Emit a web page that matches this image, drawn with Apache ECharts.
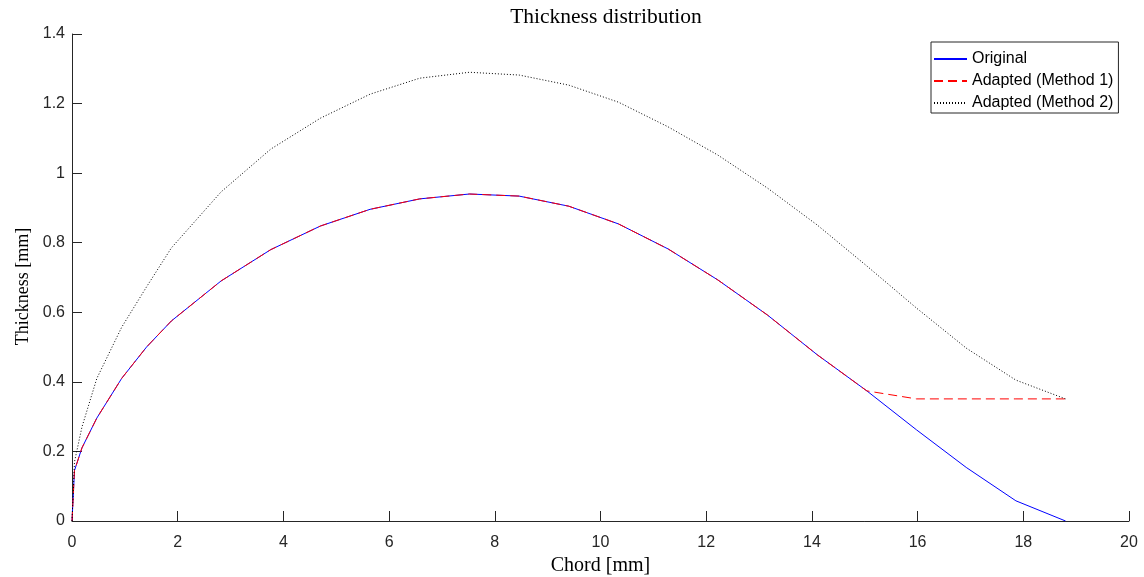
<!DOCTYPE html>
<html>
<head>
<meta charset="utf-8">
<script src="https://cdn.jsdelivr.net/npm/echarts@6/dist/echarts.min.js"></script>
<style>html,body{margin:0;padding:0;background:#fff}#c{width:1144px;height:577px}</style>
</head>
<body>
<div id="c"></div>
<script>
// Chord positions [mm]
var chord = [0, 0.047, 0.188, 0.47, 0.94, 1.41, 1.88, 2.82, 3.76, 4.7, 5.64, 6.58, 7.52, 8.46, 9.4, 10.34, 11.28, 12.22, 13.16, 14.1, 15.04, 15.98, 16.92, 17.86, 18.8];
// Thickness values [mm]
var original = [0, 0.145, 0.21, 0.296, 0.41, 0.5, 0.575, 0.69, 0.78, 0.848, 0.896, 0.926, 0.94, 0.934, 0.905, 0.854, 0.782, 0.693, 0.592, 0.478, 0.374, 0.262, 0.154, 0.058, 0];
var method1 = [0, 0.145, 0.21, 0.296, 0.41, 0.5, 0.575, 0.69, 0.78, 0.848, 0.896, 0.926, 0.94, 0.934, 0.905, 0.854, 0.782, 0.693, 0.592, 0.478, 0.374, 0.351, 0.351, 0.351, 0.351];
var method2 = [0, 0.17, 0.27, 0.41, 0.557, 0.673, 0.785, 0.946, 1.069, 1.158, 1.227, 1.273, 1.29, 1.282, 1.253, 1.204, 1.133, 1.052, 0.957, 0.851, 0.733, 0.612, 0.497, 0.405, 0.351];
var seriesNames = ['Original', 'Adapted (Method 1)', 'Adapted (Method 2)'];

function pairs(xs, ys) { return xs.map(function (x, i) { return [x, ys[i]]; }); }

var axisColor = '#262626';
var chart = echarts.init(document.getElementById('c'), null, {renderer: 'canvas'});
chart.setOption({
  animation: false,
  backgroundColor: '#ffffff',
  title: {
    text: 'Thickness distribution',
    left: 601, top: 1, textAlign: 'center',
    textStyle: {fontFamily: 'Liberation Serif', fontSize: 21.5, fontWeight: 'normal', color: '#000'}
  },
  legend: {
    orient: 'vertical', left: 931, top: 42,
    padding: [9, 5, 2, 2], itemGap: 6, itemWidth: 33, itemHeight: 14,
    borderColor: axisColor, borderWidth: 1, backgroundColor: '#fff',
    itemStyle: {opacity: 0},
    textStyle: {fontFamily: 'Liberation Sans', fontSize: 16, color: '#000'},
    data: seriesNames
  },
  grid: {left: 72, right: 15, top: 34, bottom: 56, containLabel: false, outerBoundsMode: 'none'},
  xAxis: {
    type: 'value', min: 0, max: 20, interval: 2,
    name: 'Chord [mm]', nameLocation: 'middle', nameGap: 32,
    nameTextStyle: {fontFamily: 'Liberation Serif', fontSize: 20, color: '#000'},
    axisLine: {show: true, lineStyle: {color: axisColor, width: 1}},
    axisTick: {show: true, inside: true, length: 10, lineStyle: {color: axisColor}},
    axisLabel: {margin: 14, fontFamily: 'Liberation Sans', fontSize: 16, color: axisColor},
    splitLine: {show: false}
  },
  yAxis: {
    type: 'value', min: 0, max: 1.4, interval: 0.2,
    name: 'Thickness [mm]', nameLocation: 'middle', nameGap: 37, nameRotate: 90,
    nameTextStyle: {fontFamily: 'Liberation Serif', fontSize: 18, color: '#000', padding: [0, 18, 0, 0]},
    axisLine: {show: true, lineStyle: {color: axisColor, width: 1}},
    axisTick: {show: true, inside: true, length: 10, lineStyle: {color: axisColor}},
    axisLabel: {margin: 7, fontFamily: 'Liberation Sans', fontSize: 16, color: axisColor},
    splitLine: {show: false}
  },
  series: [
    {name: seriesNames[0], type: 'line', symbol: 'none', data: pairs(chord, original),
     lineStyle: {color: '#0000ff', width: 1}, itemStyle: {color: '#0000ff'}},
    {name: seriesNames[1], type: 'line', symbol: 'none', data: pairs(chord, method1),
     lineStyle: {color: '#ff0000', width: 1, type: [9, 5]}, itemStyle: {color: '#ff0000'}},
    {name: seriesNames[2], type: 'line', symbol: 'none', data: pairs(chord, method2),
     lineStyle: {color: '#000000', width: 1, type: [1, 2]}, itemStyle: {color: '#000000'}}
  ]
});
</script>
</body>
</html>
